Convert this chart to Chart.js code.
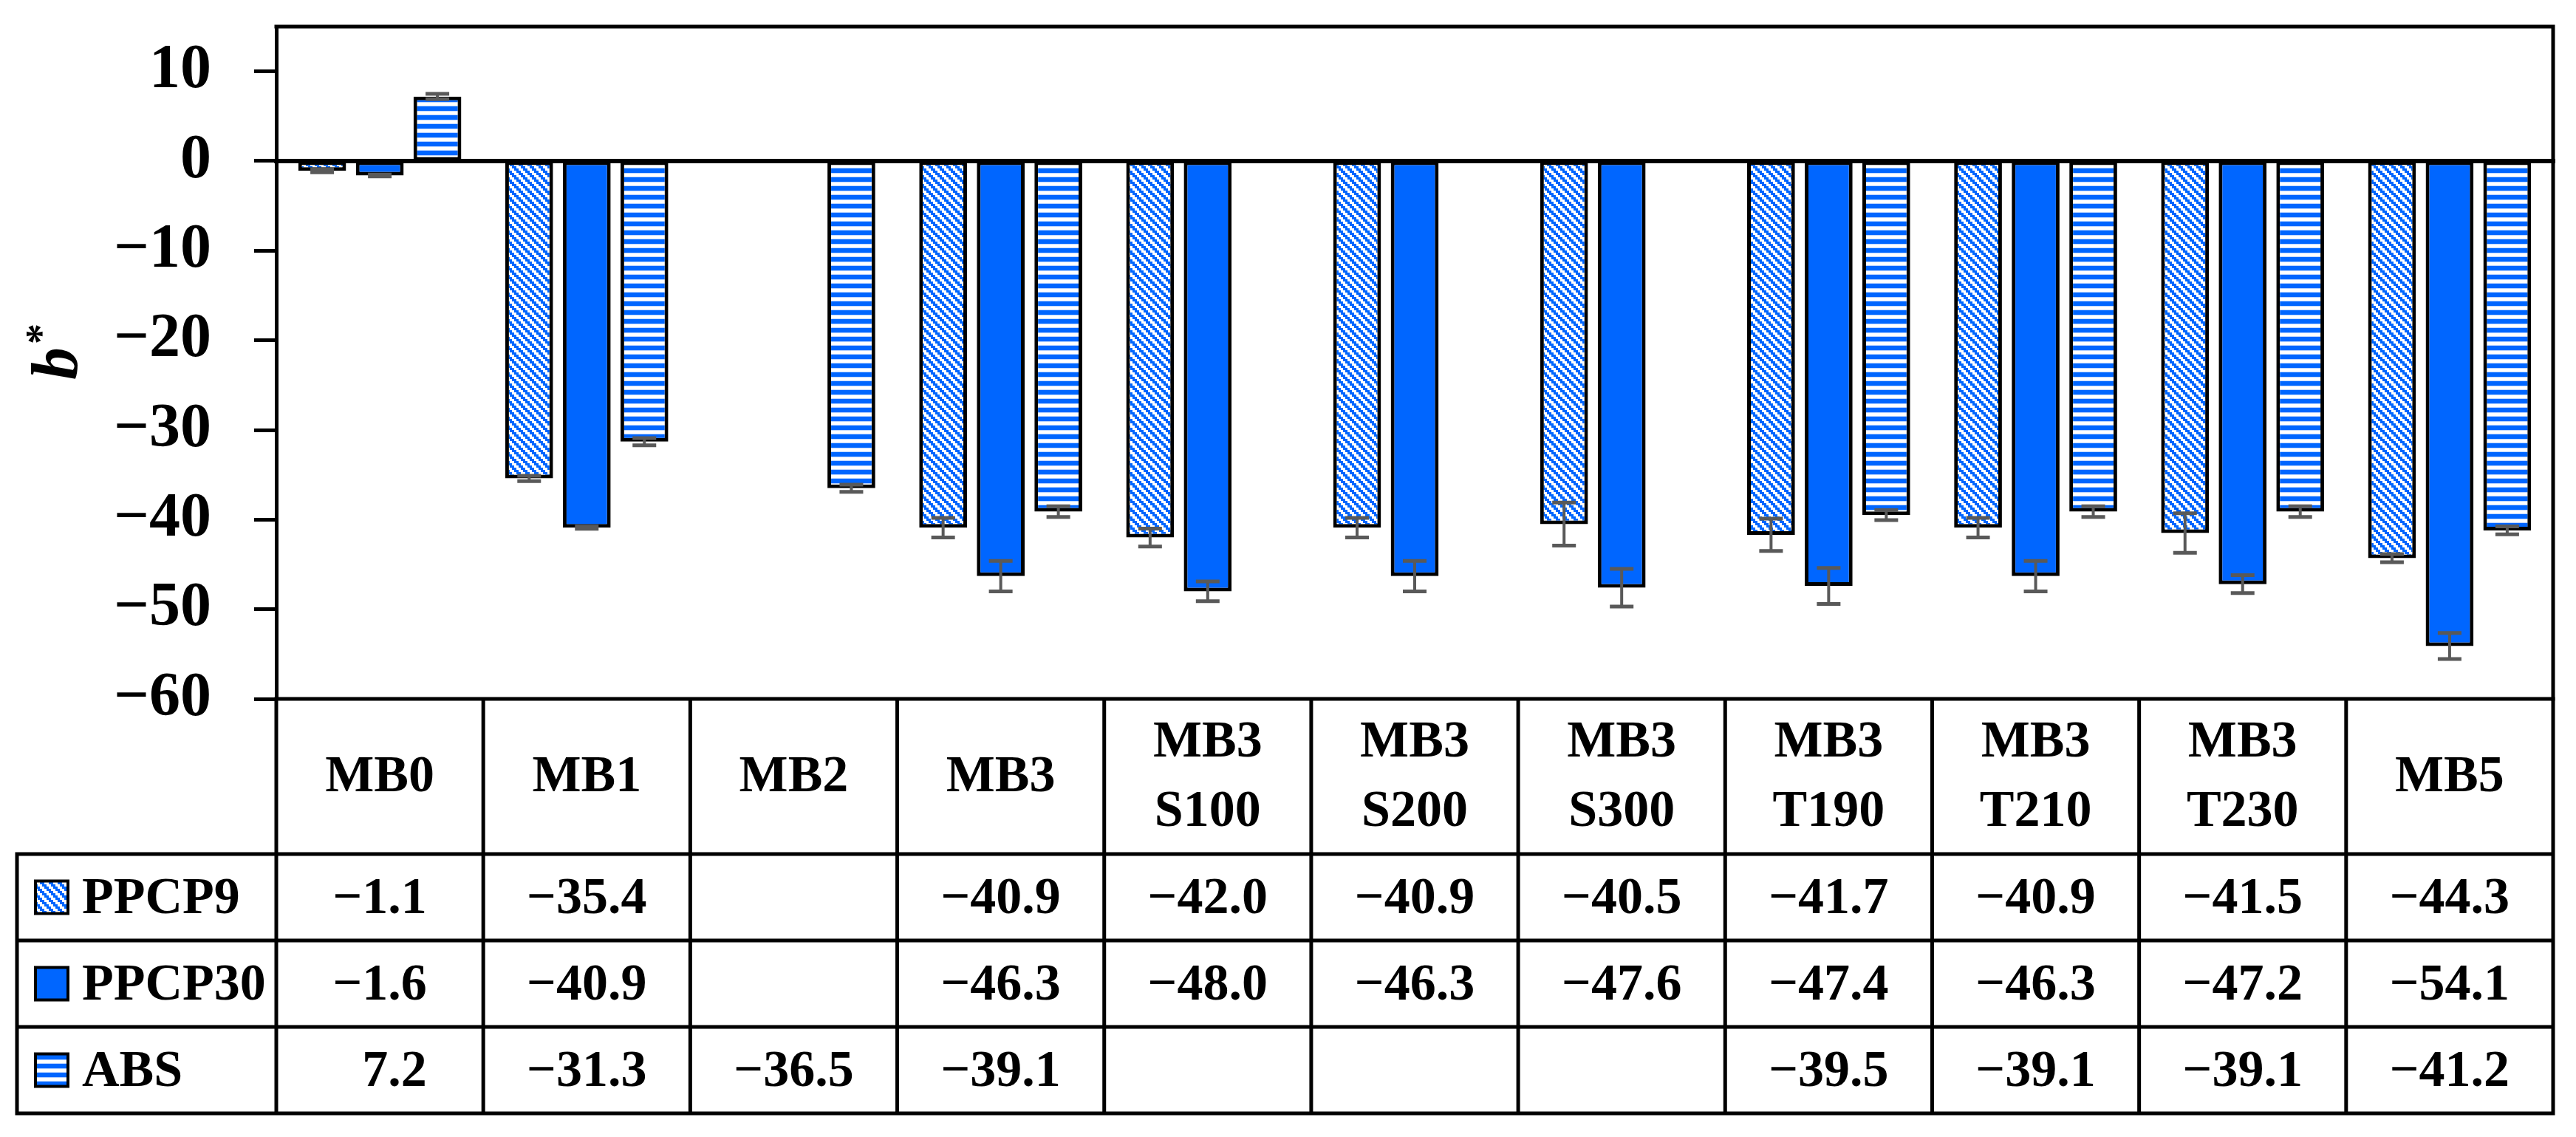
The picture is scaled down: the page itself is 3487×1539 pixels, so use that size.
<!DOCTYPE html>
<html>
<head>
<meta charset="utf-8">
<title>b* of PPCP9 / PPCP30 / ABS</title>
<script src="https://cdn.jsdelivr.net/npm/chart.js@4.4.1/dist/chart.umd.min.js"></script>
<style>
  html, body { margin: 0; padding: 0; background: #fff; }
  #wrap { width: 3487px; height: 1539px; position: relative; }
</style>
</head>
<body>
<div id="wrap"><canvas id="chart"></canvas></div>
<script>
// categories = header row of the data table
const categories = [
  'MB0', 'MB1', 'MB2', 'MB3',
  ['MB3', 'S100'], ['MB3', 'S200'], ['MB3', 'S300'],
  ['MB3', 'T190'], ['MB3', 'T210'], ['MB3', 'T230'], 'MB5'
];
const seriesNames = ['PPCP9', 'PPCP30', 'ABS'];

// b* values
const ppcp9 = [-1.1, -35.4, null, -40.9, -42.0, -40.9, -40.5, -41.7, -40.9, -41.5, -44.3];
const ppcp30 = [-1.6, -40.9, null, -46.3, -48.0, -46.3, -47.6, -47.4, -46.3, -47.2, -54.1];
const abs = [7.2, -31.3, -36.5, -39.1, null, null, null, -39.5, -39.1, -39.1, -41.2];

// error bars
const ppcp9Err = [0.15, 0.3, null, 1.1, 1.0, 1.1, 2.4, 1.8, 1.1, 2.2, 0.45];
const ppcp30Err = [0.1, 0.12, null, 1.7, 1.1, 1.7, 2.1, 2.0, 1.7, 1.0, 1.45];
const absErr = [0.3, 0.4, 0.4, 0.6, null, null, null, 0.55, 0.6, 0.6, 0.45];

// y axis
const yTicks = [10, 0, -10, -20, -30, -40, -50, -60];
const yMin = -60;
const yMax = 15;

const BLUE = '#0066ff';
const FONT = '"Liberation Serif", "Times New Roman", serif';
Chart.defaults.font.family = FONT;
Chart.defaults.color = '#000';

const canvas = document.getElementById('chart');
const mainCtx = canvas.getContext('2d');

// excel-like fill patterns, 12px tiles
function makePattern(kind) {
    const c = document.createElement('canvas');
    c.width = 12;
    c.height = 12;
    const g = c.getContext('2d');
    g.fillStyle = '#fff';
    g.fillRect(0, 0, 12, 12);
    if (kind === 'horizontal') {
        g.fillStyle = BLUE;
        g.fillRect(0, 0, 12, 6);
        g.fillStyle = '#b8d4ff';
        g.fillRect(0, 6, 12, 1);
        g.fillRect(0, 11, 12, 1);
    } else if (kind === 'diagonal') {
        // stair-stepped downward diagonal
        g.fillStyle = BLUE;
        for (let y = 0; y < 12; y += 3) {
            for (let x = 0; x < 12; x += 3) {
                const k = (((x / 3) - (y / 3)) % 4 + 4) % 4;
                if (k < 2) g.fillRect(x, y, 3, 3);
            }
        }
    } else {
        g.fillStyle = BLUE;
        g.fillRect(0, 0, 12, 12);
    }
    return mainCtx.createPattern(c, 'repeat');
}

const fills = [makePattern('diagonal'), BLUE, makePattern('horizontal')];
const seriesData = [ppcp9, ppcp30, abs];
const errorSets = [ppcp9Err, ppcp30Err, absErr];

// table row borders (below plot area)
const tableRows = [1156, 1273, 1390, 1507];
const tableLeft = 23;

function fmt(v) {
    return v < 0 ? '\u2212' + Math.abs(v) : String(v);
}

const framePlugin = {
    id: 'frame',
    afterDatasetsDraw(chart) {
        const { ctx, chartArea: a, scales: { y } } = chart;
        ctx.save();
        ctx.strokeStyle = '#000';
        ctx.lineCap = 'square';

        // zero line (category axis)
        ctx.lineWidth = 6;
        const y0 = y.getPixelForValue(0);
        ctx.beginPath();
        ctx.moveTo(a.left, y0);
        ctx.lineTo(a.right, y0);
        ctx.stroke();

        // top and right border of plot
        ctx.lineWidth = 5;
        ctx.beginPath();
        ctx.moveTo(a.left, a.top);
        ctx.lineTo(a.right, a.top);
        ctx.lineTo(a.right, a.bottom);
        ctx.stroke();

        // error bars
        ctx.strokeStyle = '#595959';
        ctx.lineCap = 'butt';
        chart.data.datasets.forEach((ds, i) => {
            const meta = chart.getDatasetMeta(i);
            meta.data.forEach((bar, j) => {
                const v = ds.data[j];
                const e = errorSets[i][j];
                if (v == null || e == null) return;
                const t = y.getPixelForValue(v + e);
                const b = y.getPixelForValue(v - e);
                const half = 16;
                ctx.lineWidth = 4;
                ctx.beginPath();
                ctx.moveTo(bar.x, t);
                ctx.lineTo(bar.x, b);
                ctx.stroke();
                ctx.lineWidth = 5;
                ctx.beginPath();
                ctx.moveTo(bar.x - half, t);
                ctx.lineTo(bar.x + half, t);
                ctx.moveTo(bar.x - half, b);
                ctx.lineTo(bar.x + half, b);
                ctx.stroke();
            });
        });
        ctx.restore();
    },
    afterDraw(chart) {
        const { ctx, chartArea: a, scales: { x } } = chart;
        const catW = x.getPixelForValue(1) - x.getPixelForValue(0);
        const edges = categories.map((_, i) => x.getPixelForValue(i) - catW / 2);
        edges.push(a.right);
        const tBottom = tableRows[tableRows.length - 1];

        ctx.save();
        ctx.strokeStyle = '#000';
        ctx.lineWidth = 5;
        ctx.lineCap = 'square';
        ctx.beginPath();
        ctx.moveTo(a.left, a.bottom);
        ctx.lineTo(a.right, a.bottom);
        tableRows.forEach(r => {
            ctx.moveTo(tableLeft, r);
            ctx.lineTo(a.right, r);
        });
        edges.forEach(ex => {
            ctx.moveTo(ex, a.bottom);
            ctx.lineTo(ex, tBottom);
        });
        ctx.moveTo(tableLeft, tableRows[0]);
        ctx.lineTo(tableLeft, tBottom);
        ctx.stroke();

        // legend keys + values
        ctx.font = 'bold 70px ' + FONT;
        ctx.textBaseline = 'middle';
        ctx.textAlign = 'left';
        const minusW = ctx.measureText('\u2212').width;
        seriesNames.forEach((name, s) => {
            const rc = (tableRows[s] + tableRows[s + 1]) / 2;
            ctx.fillStyle = fills[s];
            ctx.fillRect(48, rc - 22, 44, 44);
            ctx.lineWidth = 4;
            ctx.strokeRect(48, rc - 22, 44, 44);
            ctx.fillStyle = '#000';
            ctx.fillText(name, 111, rc + 3);

            seriesData[s].forEach((v, j) => {
                if (v == null) return;
                const body = Math.abs(v).toFixed(1);
                const w = minusW + ctx.measureText(body).width;
                const cx = x.getPixelForValue(j);
                const x0 = cx - w / 2;
                if (v < 0) {
                    ctx.fillText('\u2212' + body, x0, rc + 3);
                } else {
                    ctx.fillText(body, x0 + minusW, rc + 3);
                }
            });
        });

        // y axis title  b*
        ctx.translate(104, 514);
        ctx.rotate(-Math.PI / 2);
        ctx.textBaseline = 'alphabetic';
        ctx.font = 'italic bold 88px ' + FONT;
        ctx.fillText('b', 0, 0);
        const bw = ctx.measureText('b').width;
        ctx.font = 'bold 56px ' + FONT;
        ctx.fillText('*', bw + 4, -30);
        ctx.restore();
    }
};

new Chart(canvas, {
    type: 'bar',
    data: {
        labels: categories,
        datasets: seriesNames.map((name, i) => ({
            label: name,
            data: seriesData[i],
            backgroundColor: fills[i],
            borderColor: '#000',
            borderWidth: 5,
            borderSkipped: false,
            categoryPercentage: 0.835,
            barPercentage: 0.83,
        })),
    },
    options: {
        responsive: true,
        maintainAspectRatio: false,
        animation: false,
        devicePixelRatio: 1,
        layout: { padding: { left: 0, top: 36, right: 31, bottom: 0 } },
        plugins: {
            legend: { display: false },
            tooltip: { enabled: false },
        },
        scales: {
            x: {
                offset: true,
                grid: { display: false },
                border: { display: false },
                ticks: {
                    autoSkip: false,
                    maxRotation: 0,
                    minRotation: 0,
                    crossAlign: 'center',
                    padding: 52,
                    color: '#000',
                    font: { size: 70, weight: 'bold', lineHeight: 94 / 70 },
                },
                afterFit: (s) => {
                    s.height = 593;
                    s.paddingLeft = 0;
                    s.paddingRight = 0;
                },
            },
            y: {
                min: yMin,
                max: yMax,
                afterBuildTicks: (s) => {
                    s.ticks = yTicks.map(v => ({ value: v }));
                },
                afterFit: (s) => {
                    s.width = 374;
                    s.paddingTop = 0;
                    s.paddingBottom = 0;
                },
                grid: {
                    drawOnChartArea: false,
                    drawTicks: true,
                    tickLength: 30,
                    tickWidth: 5,
                    tickColor: '#000',
                },
                border: { display: true, color: '#000', width: 5 },
                ticks: {
                    padding: 58,
                    color: '#000',
                    font: { size: 84, weight: 'bold' },
                    callback: (v) => fmt(v),
                },
            },
        },
    },
    plugins: [framePlugin],
});
</script>
</body>
</html>
